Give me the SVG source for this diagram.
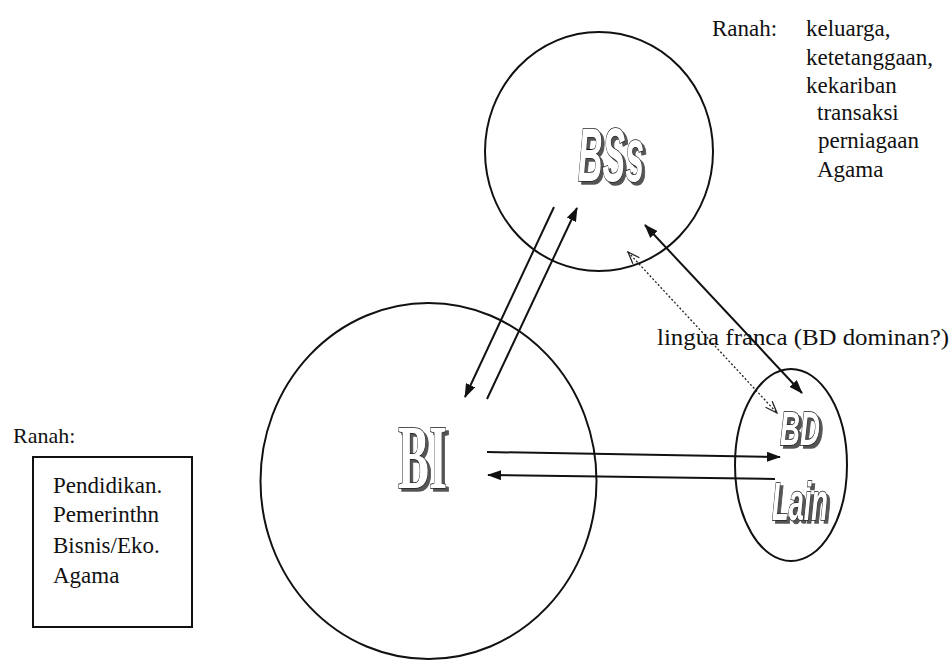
<svg xmlns="http://www.w3.org/2000/svg" width="952" height="661" viewBox="0 0 952 661">
<style>
.shape{fill:none;stroke:#111;stroke-width:2}
.t{font-family:"Liberation Serif","Times New Roman",serif;fill:#111}
.conn{fill:none;stroke:#111;stroke-width:2}
.dot{fill:none;stroke:#222;stroke-width:1.3;stroke-dasharray:2,2}
.big{font-family:"Liberation Sans Narrow","Liberation Sans",Arial,sans-serif;font-weight:bold;font-style:italic;fill:#fff;stroke:#111;stroke-width:1.6;paint-order:stroke;filter:url(#shadow)}
.bigs{font-family:"Liberation Serif","Times New Roman",serif;font-weight:bold;fill:#fff;stroke:#111;stroke-width:1.6;paint-order:stroke;filter:url(#shadow)}
</style>
<defs>
<filter id="shadow" x="-20%" y="-20%" width="150%" height="150%">
<feFlood flood-color="#555"/>
<feComposite in2="SourceAlpha" operator="in"/>
<feOffset dx="3" dy="3" result="s"/>
<feMerge><feMergeNode in="s"/><feMergeNode in="SourceGraphic"/></feMerge>
</filter>
<marker id="fa" viewBox="0 0 14 10" refX="13" refY="5" markerWidth="14" markerHeight="10" markerUnits="userSpaceOnUse" orient="auto-start-reverse">
<path d="M0,0 L14,5 L0,10 z" fill="#111"/>
</marker>
<marker id="oa" viewBox="0 0 14 10" refX="13" refY="5" markerWidth="14" markerHeight="10" markerUnits="userSpaceOnUse" orient="auto-start-reverse">
<path d="M1,0.5 L13,5 L1,9.5" fill="none" stroke="#222" stroke-width="1.3"/>
</marker>
</defs>
<rect width="952" height="661" fill="#fff"/>
<g id="connectors">
<line class="conn" x1="554" y1="207" x2="465" y2="397" marker-end="url(#fa)"/>
<line class="conn" x1="487" y1="399" x2="577" y2="208" marker-end="url(#fa)"/>
<line class="conn" x1="645" y1="225" x2="802" y2="393" marker-start="url(#fa)" marker-end="url(#fa)"/>
<line class="dot" x1="628" y1="252" x2="777" y2="413" marker-start="url(#oa)" marker-end="url(#oa)"/>
<line class="conn" x1="487" y1="452" x2="780" y2="457" marker-end="url(#fa)"/>
<line class="conn" x1="775" y1="479" x2="488" y2="475" marker-end="url(#fa)"/>
</g>
<g id="node-bss">
<ellipse class="shape" cx="599" cy="151.5" rx="114" ry="119.5"/>
<text class="big" x="578" y="181" font-size="76" textLength="66" lengthAdjust="spacingAndGlyphs">BSs</text>
</g>
<g id="node-bi">
<ellipse class="shape" cx="428.5" cy="481" rx="168" ry="178"/>
<text class="bigs" x="398" y="488" font-size="92" textLength="49" lengthAdjust="spacingAndGlyphs">BI</text>
</g>
<g id="node-bd">
<ellipse class="shape" cx="791" cy="465" rx="56" ry="96"/>
<text class="big" x="780" y="445" font-size="48" textLength="40" lengthAdjust="spacingAndGlyphs">BD</text>
<text class="big" x="772" y="520" font-size="54" textLength="56" lengthAdjust="spacingAndGlyphs">Lain</text>
</g>
<g id="label-lingua">
<text class="t" x="657" y="345" font-size="24" textLength="292" lengthAdjust="spacingAndGlyphs">lingua franca  (BD dominan?)</text>
</g>
<g id="ranah-bss">
<text class="t" x="712" y="36" font-size="23">Ranah:</text>
<text class="t" x="806" y="36" font-size="23">keluarga,</text>
<text class="t" x="806" y="65" font-size="23">ketetanggaan,</text>
<text class="t" x="806" y="93" font-size="23">kekariban</text>
<text class="t" x="817" y="120" font-size="23">transaksi</text>
<text class="t" x="818" y="148" font-size="23">perniagaan</text>
<text class="t" x="817" y="177" font-size="23">Agama</text>
</g>
<g id="ranah-bi">
<text class="t" x="13" y="443" font-size="22">Ranah:</text>
<rect class="shape" x="33" y="457" width="159" height="170"/>
<text class="t" x="53" y="493" font-size="23">Pendidikan.</text>
<text class="t" x="53" y="522" font-size="23">Pemerinthn</text>
<text class="t" x="53" y="553" font-size="23">Bisnis/Eko.</text>
<text class="t" x="53" y="583" font-size="23">Agama</text>
</g>
</svg>
